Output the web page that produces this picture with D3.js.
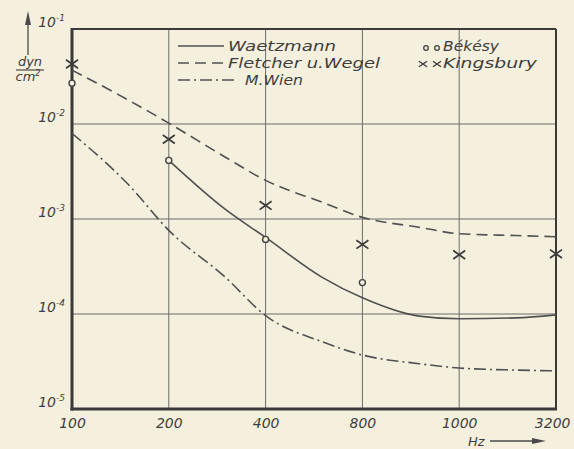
<!DOCTYPE html>
<html>
<head>
<meta charset="utf-8">
<script src="https://cdn.jsdelivr.net/npm/d3@7/dist/d3.min.js"></script>
<style>
  html, body { margin: 0; padding: 0; background: #f5f0dd; }
  svg { display: block; }
  text { font-family: "DejaVu Sans", sans-serif; font-style: italic; fill: #3e3e3e; }
</style>
</head>
<body>
<svg id="chart" width="574" height="449"></svg>
<script>
// Threshold pressure (dyn/cm²) against frequency (Hz)
const xTicks = [100, 200, 400, 800, 1600, 3200];
const xTickLabels = ["100", "200", "400", "800", "1000", "3200"];
const yTicks = [1e-1, 1e-2, 1e-3, 1e-4, 1e-5];
const yTickExp = ["-1", "-2", "-3", "-4", "-5"];

// Waetzmann (solid curve)
const waetzmannF = [200, 300, 400, 600, 800, 1200, 1600, 2400, 3200];
const waetzmannP = [4.14e-3, 1.26e-3, 6.4e-4, 2.43e-4, 1.48e-4, 9.5e-5, 8.9e-5, 9.1e-5, 9.8e-5];

// Fletcher u. Wegel (dashed curve)
const fletcherF = [100, 150, 200, 300, 400, 600, 800, 1200, 1600, 2400, 3200];
const fletcherP = [3.69e-2, 1.78e-2, 1.02e-2, 4.47e-3, 2.55e-3, 1.50e-3, 1.04e-3, 8.2e-4, 7.0e-4, 6.7e-4, 6.5e-4];

// M. Wien (dash-dot curve)
const wienF = [100, 150, 200, 300, 400, 600, 800, 1200, 1600, 2400, 3200];
const wienP = [7.98e-3, 2.29e-3, 7.6e-4, 2.43e-4, 9.6e-5, 5.1e-5, 3.7e-5, 3.0e-5, 2.7e-5, 2.57e-5, 2.52e-5];

// Békésy (open circles)
const bekesyF = [100, 200, 400, 800];
const bekesyP = [2.69e-2, 4.14e-3, 6.1e-4, 2.14e-4];

// Kingsbury (crosses)
const kingsburyF = [100, 200, 400, 800, 1600, 3200];
const kingsburyP = [4.28e-2, 6.9e-3, 1.39e-3, 5.4e-4, 4.2e-4, 4.3e-4];

const ink = "#4a4a4a";
const svg = d3.select("#chart");

const x = d3.scaleLog().base(2).domain([100, 3200]).range([72, 556]);
const y = d3.scaleLog().domain([1e-5, 1e-1]).range([409, 29]);

// grid
const grid = svg.append("g").attr("stroke", "#6a6a6a").attr("stroke-width", 1);
grid.selectAll(".vg").data(xTicks.slice(1, -1)).join("line")
  .attr("x1", d => x(d)).attr("x2", d => x(d))
  .attr("y1", y(1e-1)).attr("y2", y(1e-5));
grid.selectAll(".hg").data(yTicks.slice(1, -1)).join("line")
  .attr("x1", x(100)).attr("x2", x(3200))
  .attr("y1", d => y(d)).attr("y2", d => y(d));

// frame
const frame = svg.append("g").attr("stroke", "#3a3a3a").attr("fill", "none");
frame.append("line").attr("x1", x(100)).attr("x2", x(3200)).attr("y1", y(1e-1)).attr("y2", y(1e-1)).attr("stroke-width", 2);
frame.append("line").attr("x1", x(3200)).attr("x2", x(3200)).attr("y1", y(1e-1)).attr("y2", y(1e-5)).attr("stroke-width", 2);
frame.append("line").attr("x1", x(100)).attr("x2", x(100)).attr("y1", y(1e-1) - 1).attr("y2", y(1e-5) + 1.5).attr("stroke-width", 3);
frame.append("line").attr("x1", x(100) - 1.5).attr("x2", x(3200) + 1).attr("y1", y(1e-5)).attr("y2", y(1e-5)).attr("stroke-width", 3);

// x axis labels
const xAxis = d3.axisBottom(x).tickValues(xTicks)
  .tickFormat((d, i) => xTickLabels[i]).tickSize(0).tickPadding(0);
const gx = svg.append("g").attr("transform", `translate(0,${y(1e-5)})`).call(xAxis);
gx.select(".domain").remove();
gx.selectAll("text")
  .attr("y", 19).attr("dy", 0)
  .style("font-size", "14px").style("font-family", "DejaVu Sans, sans-serif")
  .style("font-style", "italic").attr("fill", "#3e3e3e")
  .attr("text-anchor", (d, i) => i === xTicks.length - 1 ? "end" : "middle")
  .attr("dx", (d, i) => i === xTicks.length - 1 ? 14 : 0);

// y axis labels
const yAxis = d3.axisLeft(y).tickValues(yTicks).tickFormat("").tickSize(0);
const gy = svg.append("g").attr("transform", `translate(${x(100)},0)`).call(yAxis);
gy.select(".domain").remove();
gy.selectAll(".tick").each(function(d, i) {
  const t = d3.select(this).append("text")
    .attr("x", -7).attr("y", -3)
    .attr("text-anchor", "end")
    .style("font-size", "14px").attr("fill", "#3e3e3e");
  t.append("tspan").text("10");
  t.append("tspan").attr("dy", -6).style("font-size", "9px").text(yTickExp[i]);
});

// unit label with arrow
const unit = svg.append("g");
unit.append("line").attr("x1", 28).attr("x2", 28).attr("y1", 55).attr("y2", 20)
  .attr("stroke", ink).attr("stroke-width", 1.3);
unit.append("path").attr("d", "M28,11 L25,25 L31,25 Z").attr("fill", ink);
unit.append("text").attr("x", 30).attr("y", 66).attr("text-anchor", "middle")
  .style("font-size", "13px").text("dyn");
unit.append("line").attr("x1", 16).attr("x2", 44).attr("y1", 70).attr("y2", 70)
  .attr("stroke", ink).attr("stroke-width", 1.2);
const cm = unit.append("text").attr("x", 28).attr("y", 81).attr("text-anchor", "middle")
  .style("font-size", "13px");
cm.append("tspan").text("cm");
cm.append("tspan").attr("dy", -5).style("font-size", "8px").text("2");

// Hz label with arrow
svg.append("text").attr("x", 468).attr("y", 446).style("font-size", "13px").text("Hz");
svg.append("line").attr("x1", 490).attr("x2", 535).attr("y1", 441).attr("y2", 441)
  .attr("stroke", ink).attr("stroke-width", 1.3);
svg.append("path").attr("d", "M546,441 L532,438 L532,444 Z").attr("fill", ink);

// curves
const line = d3.line().x(d => x(d[0])).y(d => y(d[1])).curve(d3.curveMonotoneX);
const zip = (a, b) => a.map((v, i) => [v, b[i]]);
const curves = svg.append("g").attr("fill", "none").attr("stroke", "#505050").attr("stroke-width", 1.6);
curves.append("path").attr("d", line(zip(waetzmannF, waetzmannP)));
curves.append("path").attr("d", line(zip(fletcherF, fletcherP))).attr("stroke-dasharray", "11,6");
curves.append("path").attr("d", line(zip(wienF, wienP))).attr("stroke-dasharray", "12,4,2,4");

// points
const pts = svg.append("g");
pts.selectAll(".bek").data(zip(bekesyF, bekesyP)).join("circle")
  .attr("cx", d => x(d[0])).attr("cy", d => y(d[1])).attr("r", 3)
  .attr("fill", "#f5f0dd").attr("stroke", "#404040").attr("stroke-width", 1.4);
const cross = (g, cx, cy, s, w) => {
  g.append("path").attr("d", `M${cx - s},${cy - s * 0.7}L${cx + s},${cy + s * 0.7}M${cx - s},${cy + s * 0.7}L${cx + s},${cy - s * 0.7}`)
    .attr("stroke", "#3c3c3c").attr("stroke-width", w).attr("fill", "none");
};
zip(kingsburyF, kingsburyP).forEach(d => cross(pts, x(d[0]), y(d[1]), 6, 1.8));

// legend
const leg = svg.append("g");
const rows = [
  { label: "Waetzmann", dash: null, y: 46, x1: 178, x2: 224, tx: 228, len: 108 },
  { label: "Fletcher u.Wegel", dash: "11,6", y: 63, x1: 178, x2: 224, tx: 228, len: 152 },
  { label: "M.Wien", dash: "12,4,2,4", y: 80, x1: 178, x2: 238, tx: 245, len: 58 }
];
rows.forEach(r => {
  leg.append("line").attr("x1", r.x1).attr("x2", r.x2).attr("y1", r.y).attr("y2", r.y)
    .attr("stroke", "#505050").attr("stroke-width", 1.6).attr("stroke-dasharray", r.dash);
  leg.append("text").attr("x", r.tx).attr("y", r.y + 5)
    .attr("textLength", r.len).attr("lengthAdjust", "spacingAndGlyphs")
    .style("font-size", "14px").text(r.label);
});
[426, 437].forEach(cx => leg.append("circle").attr("cx", cx).attr("cy", 48).attr("r", 2.3)
  .attr("fill", "none").attr("stroke", "#404040").attr("stroke-width", 1.3));
leg.append("text").attr("x", 443).attr("y", 51).attr("textLength", 56)
  .attr("lengthAdjust", "spacingAndGlyphs").style("font-size", "14px").text("Békésy");
[423, 437].forEach(cx => cross(leg, cx, 64, 4, 1.4));
leg.append("text").attr("x", 443).attr("y", 68).attr("textLength", 94)
  .attr("lengthAdjust", "spacingAndGlyphs").style("font-size", "14px").text("Kingsbury");
</script>
</body>
</html>
